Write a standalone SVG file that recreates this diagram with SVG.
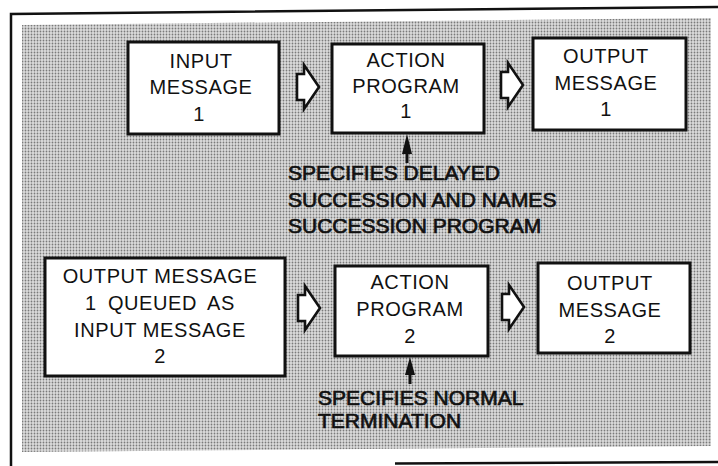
<svg xmlns="http://www.w3.org/2000/svg" width="718" height="466" viewBox="0 0 718 466">
  <defs>
    <!-- fine halftone screen for the shaded panel -->
    <pattern id="screen" width="3" height="3" patternUnits="userSpaceOnUse">
      <rect width="3" height="3" fill="#dcdcdc"/>
      <circle cx="1.5" cy="1.5" r="0.9" fill="#7a7a7a"/>
    </pattern>
    <path id="blockArrow" d="M0,9 H7 V0 L22,22 L7,44 V35 H0 Z"/>
  </defs>
  <style>
    .box { fill: #ffffff; stroke: #111111; stroke-width: 3; }
    .boxText { font-family: "Liberation Sans", Arial, sans-serif; font-size: 20px; letter-spacing: 0.6px; fill: #111111; text-anchor: middle; }
    .note { font-family: "Liberation Sans", Arial, sans-serif; font-size: 21px; fill: #111111; stroke: #111111; stroke-width: 0.7px; }
    .flow { fill: #ffffff; stroke: #111111; stroke-width: 2.6; stroke-linejoin: miter; }
    .stem { stroke: #111111; stroke-width: 3; }
    .head { fill: #111111; }
    .frame { fill: none; stroke: #111111; stroke-width: 2.5; }
  </style>

  <rect width="718" height="466" fill="#ffffff"/>

  <!-- outer frame and shaded panel -->
  <g id="frame">
    <polyline class="frame" points="11,466 11,14 718,7"/>
    <line x1="395" y1="463.5" x2="718" y2="462" stroke="#111111" stroke-width="2.5"/>
    <polygon points="22,25 711,18 711,446 22,452" fill="url(#screen)"/>
  </g>

  <!-- top row -->
  <g id="input-message-1">
    <rect class="box" x="128" y="42" width="151" height="92"/>
    <text class="boxText" x="201" y="68">INPUT</text>
    <text class="boxText" x="201" y="94">MESSAGE</text>
    <text class="boxText" x="199" y="121">1</text>
  </g>
  <g id="action-program-1">
    <rect class="box" x="332" y="44" width="152" height="89"/>
    <text class="boxText" x="406" y="67">ACTION</text>
    <text class="boxText" x="406" y="93">PROGRAM</text>
    <text class="boxText" x="406" y="118">1</text>
  </g>
  <g id="output-message-1">
    <rect class="box" x="533" y="38" width="153" height="92"/>
    <text class="boxText" x="606" y="63">OUTPUT</text>
    <text class="boxText" x="606" y="90">MESSAGE</text>
    <text class="boxText" x="606" y="116">1</text>
  </g>

  <!-- bottom row -->
  <g id="queued-input-message-2">
    <rect class="box" x="45" y="258" width="240" height="118"/>
    <text class="boxText" x="160" y="283">OUTPUT MESSAGE</text>
    <text class="boxText" x="160" y="310" word-spacing="5">1 QUEUED AS</text>
    <text class="boxText" x="160" y="337">INPUT MESSAGE</text>
    <text class="boxText" x="160" y="363">2</text>
  </g>
  <g id="action-program-2">
    <rect class="box" x="335" y="266" width="153" height="90"/>
    <text class="boxText" x="410" y="289">ACTION</text>
    <text class="boxText" x="410" y="316">PROGRAM</text>
    <text class="boxText" x="410" y="343">2</text>
  </g>
  <g id="output-message-2">
    <rect class="box" x="538" y="263" width="152" height="90"/>
    <text class="boxText" x="610" y="290">OUTPUT</text>
    <text class="boxText" x="610" y="317">MESSAGE</text>
    <text class="boxText" x="610" y="343">2</text>
  </g>

  <!-- annotations -->
  <g id="note-delayed">
    <text class="note" x="288" y="180">SPECIFIES DELAYED</text>
    <text class="note" x="288" y="207">SUCCESSION AND NAMES</text>
    <text class="note" x="288" y="233">SUCCESSION PROGRAM</text>
  </g>
  <g id="note-normal">
    <text class="note" x="318" y="405">SPECIFIES NORMAL</text>
    <text class="note" x="318" y="428">TERMINATION</text>
  </g>

  <!-- connectors -->
  <g id="connectors">
    <use href="#blockArrow" class="flow" x="297" y="65"/>
    <use href="#blockArrow" class="flow" x="501" y="63"/>
    <use href="#blockArrow" class="flow" x="298" y="286"/>
    <use href="#blockArrow" class="flow" x="502" y="285"/>

    <line class="stem" x1="407" y1="150" x2="407" y2="163"/>
    <polygon class="head" points="407,134 402,154 412,154"/>
    <line class="stem" x1="410" y1="372" x2="410" y2="384"/>
    <polygon class="head" points="410,357 405,375 415,375"/>
  </g>
</svg>
